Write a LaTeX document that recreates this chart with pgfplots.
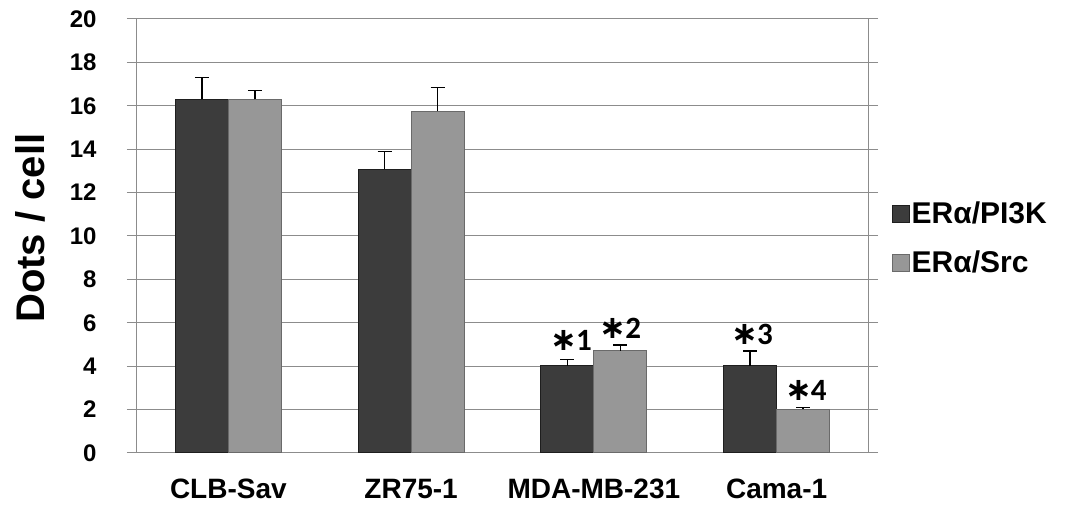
\documentclass[border=0pt]{standalone}
\usepackage{fontspec}
\setmainfont{Liberation Sans}
\newfontfamily\calfont{Carlito}
\newfontfamily\djv{DejaVu Sans}
\usepackage{pgfplots}
\pgfplotsset{compat=1.18}
\definecolor{darkbar}{HTML}{3C3C3C}
\definecolor{darkedge}{HTML}{1E1E1E}
\definecolor{lightbar}{HTML}{979797}
\definecolor{lightedge}{HTML}{6A6A6A}
\definecolor{gridc}{HTML}{8C8C8C}
\newcommand{\sigmark}[1]{{\djv\bfseries\fontsize{32}{30}\selectfont ∗}\kern-1pt{\calfont\bfseries\fontsize{31}{30}\selectfont #1}}
\begin{document}
\begin{tikzpicture}
\useasboundingbox (-137pt,-52pt) rectangle (932pt,453pt);
\begin{axis}[
  at={(0pt,0pt)}, anchor=south west,
  scale only axis, width=731pt, height=434pt,
  ybar=0pt, bar width=53pt,
  xmin=-0.5, xmax=3.5, ymin=0, ymax=20,
  xtick={0,1,2,3},
  xticklabels={CLB-Sav,ZR75-1,MDA-MB-231,Cama-1},
  ytick={0,2,4,6,8,10,12,14,16,18,20},
  yticklabels={0,2,4,6,8,10,12,14,16,18,20},
  axis line style={gridc, line width=1pt},
  ymajorgrids, grid style={gridc, line width=1pt},
  tick align=outside,
  ytick pos=both,
  major tick length=10pt,
  ytick style={gridc, line width=1pt},
  xtick style={draw=none},
  yticklabel style={font=\fontsize{24}{28}\selectfont\bfseries, xshift=-27pt},
  xticklabel style={font=\fontsize{28}{32}\selectfont\bfseries, text height=20pt, text depth=0pt, yshift=-12pt},
  ylabel={Dots / cell},
  ylabel style={font=\fontsize{40}{44}\selectfont\bfseries, at={(axis description cs:-0.146,0.518)}, anchor=center, rotate=0},
  legend style={at={(1.028,0.588)}, anchor=north west, draw=none, fill=none,
    font=\fontsize{30}{34}\selectfont\bfseries, row sep=22pt,
    /tikz/every even column/.append style={column sep=6pt}},
  legend cell align=left,
  legend image code/.code={\draw[#1] (0pt,-8.5pt) rectangle (17pt,8.5pt);},
  error bars/y dir=plus, error bars/y explicit,
  error bars/error bar style={black, line width=1.3pt},
  error bars/error mark options={black, line width=1.3pt, mark size=7pt, rotate=90},
]
\addplot[draw=darkedge, fill=darkbar, line width=1pt]
  coordinates {(0,16.3) +- (0,1.0) (1,13.07) +- (0,0.83) (2,4.02) +- (0,0.30) (3,4.02) +- (0,0.68)};
\addplot[draw=lightedge, fill=lightbar, line width=1pt]
  coordinates {(0,16.3) +- (0,0.40) (1,15.76) +- (0,1.09) (2,4.71) +- (0,0.27) (3,2.01) +- (0,0.09)};
\legend{ERα/PI3K, ERα/Src}
\node at (axis cs:1.875,5.2) {\sigmark{1}};
\node at (axis cs:2.145,5.75) {\sigmark{2}};
\node at (axis cs:2.865,5.45) {\sigmark{3}};
\node at (axis cs:3.16,2.9) {\sigmark{4}};
\end{axis}
\end{tikzpicture}
\end{document}
